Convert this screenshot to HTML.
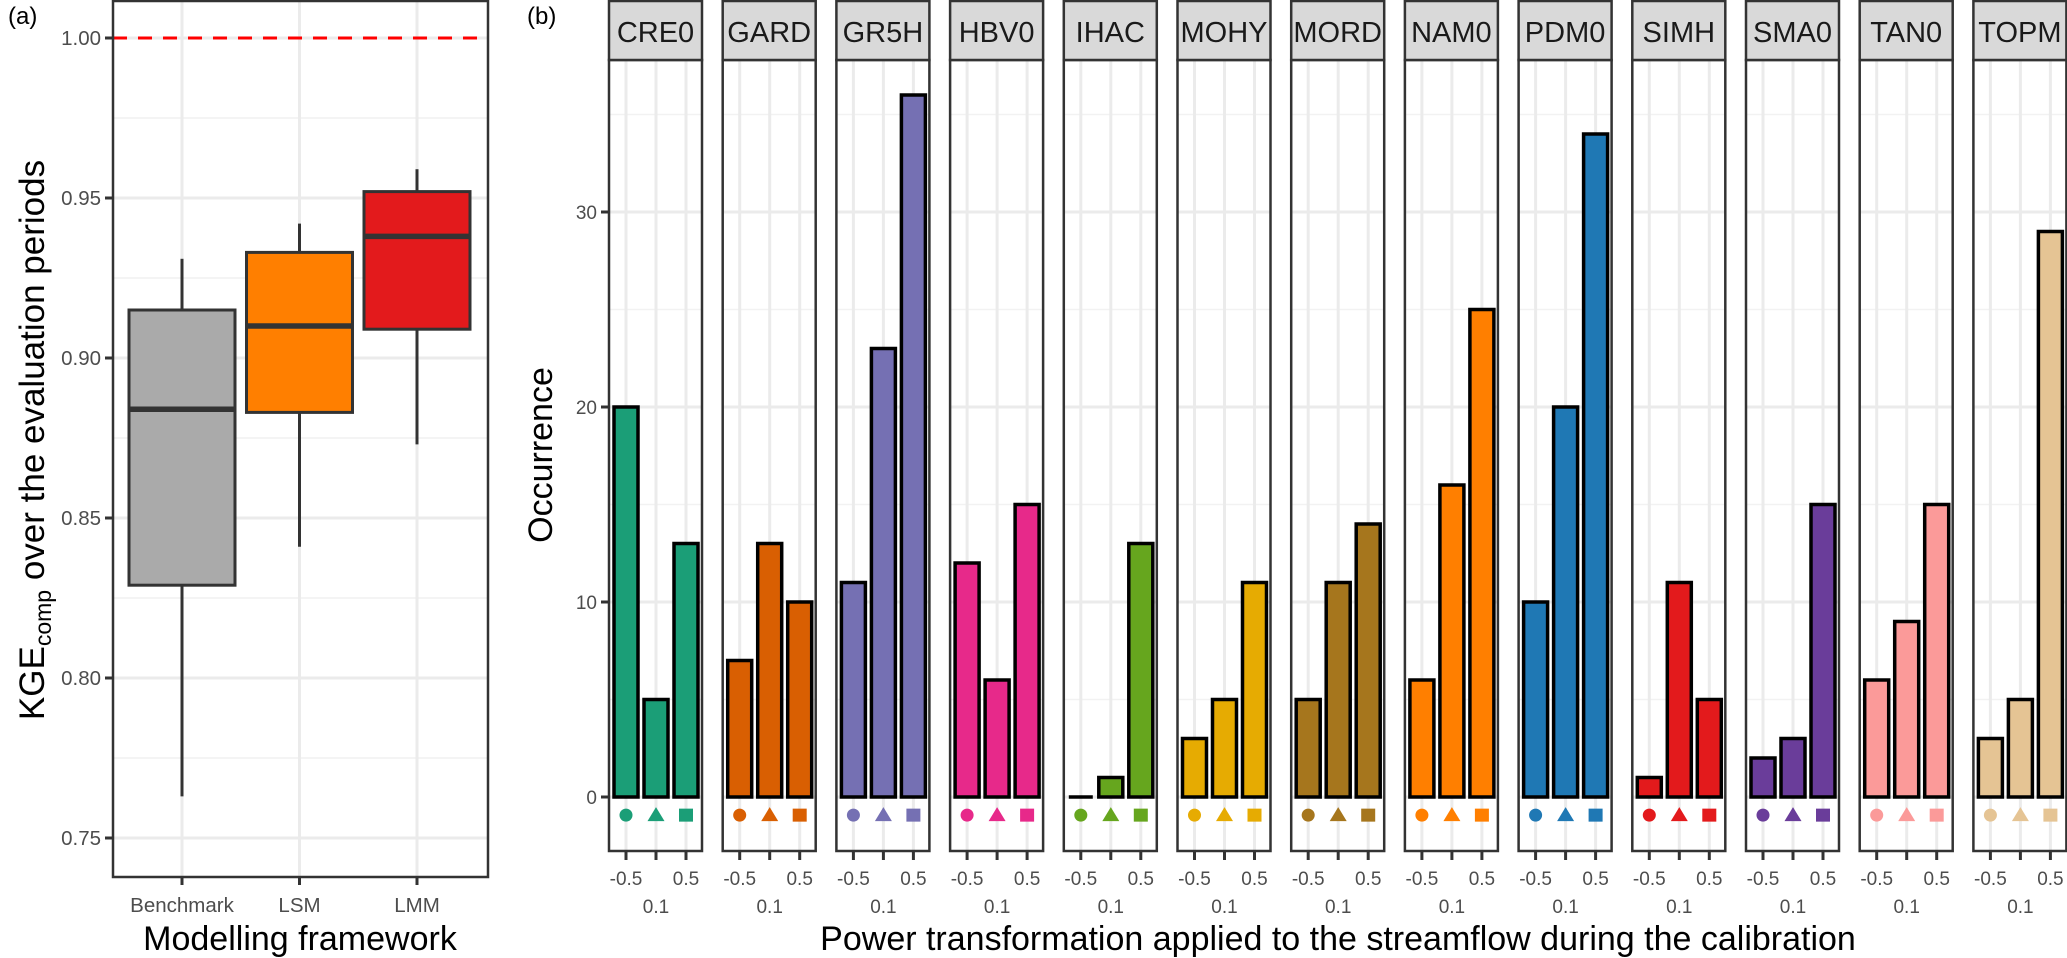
<!DOCTYPE html>
<html><head><meta charset="utf-8"><style>
html,body{margin:0;padding:0;background:#fff;}
svg{display:block;font-family:"Liberation Sans",Arial,sans-serif;}
</style></head><body>
<svg id="fig" width="2067" height="958" viewBox="0 0 2067 958" xmlns="http://www.w3.org/2000/svg">
<text x="8" y="24" font-size="24" fill="#000">(a)</text>
<text x="527" y="24" font-size="24" fill="#000">(b)</text>
<g id="pa"></g>
<g id="pb"></g>
<text x="300" y="950" font-size="34" text-anchor="middle" fill="#000">Modelling framework</text>
<text transform="translate(44,440) rotate(-90)" font-size="35" text-anchor="middle" fill="#000">KGE<tspan font-size="23" dy="7">comp</tspan><tspan dy="-7"> over the evaluation periods</tspan></text>
<text x="1338" y="950" font-size="34" text-anchor="middle" fill="#000">Power transformation applied to the streamflow during the calibration</text>
<text transform="translate(552,455) rotate(-90)" font-size="34" text-anchor="middle" fill="#000">Occurrence</text>
</svg>
<script>
// ---- Panel (a) data ----
const frameworks = ["Benchmark","LSM","LMM"];
const boxQ1 = [0.829,0.883,0.909];
const boxMedian = [0.884,0.910,0.938];
const boxQ3 = [0.915,0.933,0.952];
const boxLow = [0.763,0.841,0.873];
const boxHigh = [0.931,0.942,0.959];
const boxColors = ["#aaaaaa","#ff7f00","#e31a1c"];
const aTicks = [0.75,0.80,0.85,0.90,0.95,1.00];
const aTickLabels = ["0.75","0.80","0.85","0.90","0.95","1.00"];
const refLine = 1.00;

// ---- Panel (b) data ----
const models = ["CRE0","GARD","GR5H","HBV0","IHAC","MOHY","MORD","NAM0","PDM0","SIMH","SMA0","TAN0","TOPM"];
const powers = ["-0.5","0.1","0.5"];
const countsNeg05 = [20,7,11,12,0,3,5,6,10,1,2,6,3];
const counts01 = [5,13,23,6,1,5,11,16,20,11,3,9,5];
const counts05 = [13,10,36,15,13,11,14,25,34,5,15,15,29];
const modelColors = ["#1b9e77","#d95f02","#7570b3","#e7298a","#66a61e","#e6ab02","#a6761d","#ff7f00","#1f78b4","#e31a1c","#6a3d9a","#fb9a99","#e5c494"];
const bTicks = [0,10,20,30];
const bTickLabels = ["0","10","20","30"];

const NS="http://www.w3.org/2000/svg";
function mk(parent,tag,attrs){const e=document.createElementNS(NS,tag);for(const k in attrs)e.setAttribute(k,attrs[k]);parent.appendChild(e);return e;}

// Panel a
(function(){
 const g=document.getElementById('pa');
 const L=113,R=488,T=1,B=877;
 const ay=v=>838-(v-0.75)*3200;
 const ax=i=>182+i*117.5;
 let r=mk(g,'rect',{x:L,y:T,width:R-L,height:B-T,fill:'#fff'});
 
 
 for(let i=0;i<aTicks.length;i++){
  const v=aTicks[i]+0.025; if(ay(v)>T){let m=mk(g,'line',{x1:L,x2:R,y1:ay(v),y2:ay(v),stroke:'#f0f0f0','stroke-width':1.5});
  
  }
 }
 aTicks.forEach((v,i)=>{
  let l=mk(g,'line',{x1:L,x2:R,y1:ay(v),y2:ay(v),stroke:'#ebebeb','stroke-width':3});
  
  
  let t=mk(g,'line',{x1:L-8,x2:L,y1:ay(v),y2:ay(v),stroke:'#333','stroke-width':3});
  
  
  let tx=mk(g,'text',{x:L-12,y:ay(v)+7,'font-size':20.5,'text-anchor':'end',fill:'#4d4d4d'});
  tx.textContent=aTickLabels[i];
  
  
 });
 frameworks.forEach((f,i)=>{
  let l=mk(g,'line',{x1:ax(i),x2:ax(i),y1:T,y2:B,stroke:'#ebebeb','stroke-width':3});
  
  
 });
 let rl=mk(g,'line',{x1:L,x2:R,y1:ay(refLine),y2:ay(refLine),stroke:'#ff0000','stroke-width':3,'stroke-dasharray':'14,11'});
 
 
 frameworks.forEach((f,i)=>{
  const x=ax(i),hw=53;
  const bg=mk(g,'g',{});
  
  
  mk(bg,'line',{x1:x,x2:x,y1:ay(boxHigh[i]),y2:ay(boxQ3[i]),stroke:'#333','stroke-width':3});
  mk(bg,'line',{x1:x,x2:x,y1:ay(boxQ1[i]),y2:ay(boxLow[i]),stroke:'#333','stroke-width':3});
  mk(bg,'rect',{x:x-hw,y:ay(boxQ3[i]),width:2*hw,height:ay(boxQ1[i])-ay(boxQ3[i]),fill:boxColors[i],stroke:'#333','stroke-width':3});
  mk(bg,'line',{x1:x-hw,x2:x+hw,y1:ay(boxMedian[i]),y2:ay(boxMedian[i]),stroke:'#333','stroke-width':5.5});
  let t=mk(g,'line',{x1:x,x2:x,y1:B,y2:B+8,stroke:'#333','stroke-width':3});
  
  
  let tx=mk(g,'text',{x:x,y:912,'font-size':20.5,'text-anchor':'middle',fill:'#4d4d4d'});
  tx.textContent=f;
  
  
 });
 let bd=mk(g,'rect',{x:L,y:T,width:R-L,height:B-T,fill:'none',stroke:'#333','stroke-width':2.5});
 
 
})();

// Panel b
(function(){
 const g=document.getElementById('pb');
 const T=60,B=851,W=93,step=113.7,X0=609;
 const by=v=>797-v*19.5;
 const series=[countsNeg05,counts01,counts05];
 bTicks.forEach((v,i)=>{
  let t=mk(g,'line',{x1:X0-8,x2:X0,y1:by(v),y2:by(v),stroke:'#333','stroke-width':3});
  
  
  let tx=mk(g,'text',{x:X0-12,y:by(v)+7,'font-size':19,'text-anchor':'end',fill:'#4d4d4d'});
  tx.textContent=bTickLabels[i];
  
  
 });
 models.forEach((m,mi)=>{
  const L=X0+mi*step;
  const px=k=>L+17+k*30;
  const fg=mk(g,'g',{});
  
  
  mk(fg,'rect',{x:L,y:T,width:W,height:B-T,fill:'#fff'});
  [5,15,25,35].forEach(v=>mk(fg,'line',{x1:L,x2:L+W,y1:by(v),y2:by(v),stroke:'#f2f2f2','stroke-width':1.5}));
  bTicks.forEach(v=>mk(fg,'line',{x1:L,x2:L+W,y1:by(v),y2:by(v),stroke:'#ebebeb','stroke-width':3}));
  powers.forEach((p,k)=>mk(fg,'line',{x1:px(k),x2:px(k),y1:T,y2:B,stroke:'#ebebeb','stroke-width':3}));
  powers.forEach((p,k)=>{
   const v=series[k][mi];
   let bar;
   if(v>0){
    bar=mk(fg,'rect',{x:px(k)-12,y:by(v),width:24,height:by(0)-by(v),fill:modelColors[mi],stroke:'#000','stroke-width':3.5});
   } else {
    bar=mk(fg,'line',{x1:px(k)-12,x2:px(k)+12,y1:by(v),y2:by(v),stroke:'#000','stroke-width':3.5});
   }
   
   
   const cx=px(k),cy=by(-0.93);
   let s;
   if(k===0) s=mk(fg,'circle',{cx:cx,cy:cy,r:6.5,fill:modelColors[mi]});
   else if(k===1) s=mk(fg,'polygon',{points:`${cx},${cy-8} ${cx-8.5},${cy+6} ${cx+8.5},${cy+6}`,fill:modelColors[mi]});
   else s=mk(fg,'rect',{x:cx-7,y:cy-6.5,width:14,height:13,fill:modelColors[mi]});
   
   
   let t=mk(fg,'line',{x1:cx,x2:cx,y1:B,y2:B+9,stroke:'#333','stroke-width':3});
   
   
   if(k!==1){let tx=mk(fg,'text',{x:cx,y:885,'font-size':19,'text-anchor':'middle',fill:'#4d4d4d'});
   tx.textContent=p;
   
   }
  });
  let sub=mk(fg,'text',{x:px(1),y:913,'font-size':19,'text-anchor':'middle',fill:'#4d4d4d'});
  sub.textContent=powers[1];
  
  
  mk(fg,'rect',{x:L,y:T,width:W,height:B-T,fill:'none',stroke:'#333','stroke-width':2.5});
  const st=mk(fg,'rect',{x:L,y:1,width:W,height:T-1,fill:'#d9d9d9',stroke:'#333','stroke-width':2.5});
  
  
  const lt=mk(fg,'text',{x:L+W/2,y:42,'font-size':29,'text-anchor':'middle',fill:'#1a1a1a'});
  lt.textContent=m;
  
  
 });
})();
</script>
</body></html>
